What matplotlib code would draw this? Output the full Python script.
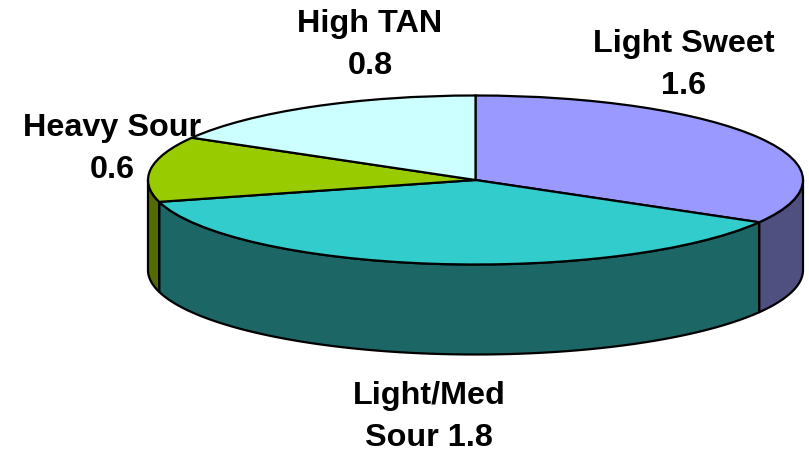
"""3D-look pie of crude types, drawn with a flattened pie plus side walls."""
import matplotlib
matplotlib.use("Agg")
import matplotlib.pyplot as plt
import numpy as np
from matplotlib.transforms import Affine2D

categories = ["Light Sweet", "Light/Med Sour", "Heavy Sour", "High TAN"]
values = [1.6, 1.8, 0.6, 0.8]
top_colors = ["#9999FF", "#33CCCC", "#99CC00", "#CCFFFF"]
side_colors = ["#4F4F80", "#1C6666", "#536B00", "#6B8080"]
label_text = ["Light Sweet\n1.6", "Light/Med\nSour 1.8", "Heavy Sour\n0.6", "High TAN\n0.8"]
label_pos = [(684, 65), (429, 417), (112, 149), (370, 45)]

CX, CY = 475.5, 180
RX, RY = 327.5, 84.5
DEPTH = 90

plt.rcParams["font.family"] = ["Liberation Sans", "DejaVu Sans"]

fig = plt.figure(figsize=(8.09, 4.53), dpi=100)
ax = fig.add_axes([0, 0, 1, 1])
ax.set_xlim(0, 809)
ax.set_ylim(453, 0)
ax.axis("off")

# slice boundaries, clockwise from 12 o'clock
edges = np.cumsum([0] + values) / sum(values) * 2 * np.pi


def rim(a):
    return CX + RX * np.sin(a), CY - RY * np.cos(a)


# side walls only show on the front half of the ellipse
for start, stop, color in zip(edges[:-1], edges[1:], side_colors):
    lo, hi = max(start, np.pi / 2), min(stop, 3 * np.pi / 2)
    if lo >= hi:
        continue
    a = np.linspace(lo, hi, 120)
    x, y = rim(a)
    ax.fill(
        np.r_[x, x[::-1]],
        np.r_[y, y[::-1] + DEPTH],
        facecolor=color,
        edgecolor="black",
        linewidth=1.6,
        joinstyle="round",
        zorder=2,
    )

# top face: ordinary pie squashed into an ellipse
wedges, _ = ax.pie(
    values,
    colors=top_colors,
    startangle=90,
    counterclock=False,
    radius=RX,
    frame=True,
    wedgeprops={"edgecolor": "black", "linewidth": 1.6, "zorder": 3},
)
squash = Affine2D().scale(1, -RY / RX).translate(CX, CY) + ax.transData
for w in wedges:
    w.set_transform(squash)
    w.set_clip_on(False)

ax.set_xlim(0, 809)
ax.set_ylim(453, 0)
ax.set_aspect("auto")
ax.axis("off")

for text, (x, y) in zip(label_text, label_pos):
    ax.text(
        x, y, text, ha="center", va="center", fontsize=23.3,
        fontweight="bold", color="black", linespacing=1.52, zorder=5,
    )

fig.savefig("out.png", dpi=100)
plt.close(fig)
